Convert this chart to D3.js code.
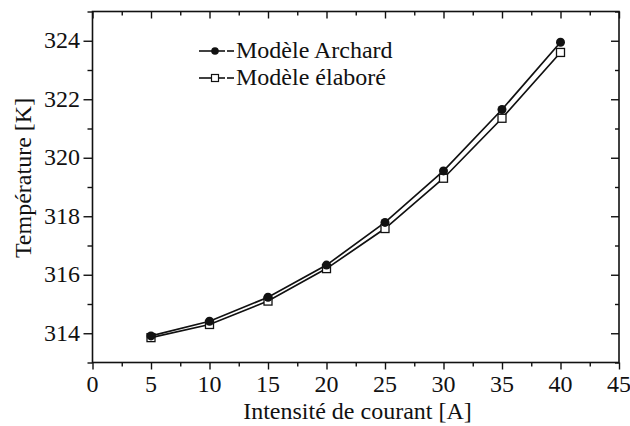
<!DOCTYPE html>
<html><head><meta charset="utf-8">
<script src="https://cdn.jsdelivr.net/npm/d3@7"></script>
</head><body style="margin:0;background:#fff">
<svg id="c" width="630" height="426" style="display:block"></svg>
<script>
const currents = [5, 10, 15, 20, 25, 30, 35, 40];
const archard = [313.91, 314.41, 315.23, 316.33, 317.79, 319.55, 321.65, 323.95];
const elabore = [313.85, 314.30, 315.10, 316.21, 317.58, 319.30, 321.35, 323.60];
const xTicks = [0, 5, 10, 15, 20, 25, 30, 35, 40, 45];
const yTicks = [314, 316, 318, 320, 322, 324];
const seriesNames = ["Modèle Archard", "Modèle élaboré"];

const FONT = '"Liberation Serif", "Times New Roman", serif';
const svg = d3.select("#c");
const L = 92.5, R = 619, T = 11.5, B = 362.5;
const x = d3.scaleLinear().domain([0, 45]).range([L, R]);
const y = d3.scaleLinear().domain([313, 325]).range([B, T]);
const ink = "#111";

const xMinor = d3.range(0, 45.01, 2.5).filter(v => !xTicks.includes(v));
const yMinor = d3.range(313, 325.01, 1).filter(v => !yTicks.includes(v));

function ticks(g, axisFn, scale, major, minor, kMaj, kMin) {
  g.call(axisFn(scale).tickValues(major).tickSize(kMaj).tickFormat(""));
  g.select(".domain").remove();
  const m = g.append("g");
  m.call(axisFn(scale).tickValues(minor).tickSize(kMin).tickFormat(""));
  m.select(".domain").remove();
  g.selectAll("line").attr("stroke", ink).attr("stroke-width", 1.4);
}
ticks(svg.append("g").attr("transform", `translate(0,${B})`), d3.axisBottom, x, xTicks, xMinor, 7, 4);
ticks(svg.append("g").attr("transform", `translate(0,${T})`), d3.axisBottom, x, xTicks, xMinor, 7, 4);
ticks(svg.append("g").attr("transform", `translate(${L},0)`), d3.axisLeft, y, yTicks, yMinor, 9, 5);
ticks(svg.append("g").attr("transform", `translate(${R},0)`), d3.axisLeft, y, yTicks, yMinor, 8, 4);

svg.append("rect").attr("x", L).attr("y", T).attr("width", R - L).attr("height", B - T)
  .attr("fill", "none").attr("stroke", ink).attr("stroke-width", 1.6);

function txt(sel) { return sel.style("font-family", FONT).attr("fill", ink); }

txt(svg.append("g").selectAll("text").data(xTicks).join("text"))
  .attr("x", d => x(d)).attr("y", 392)
  .attr("text-anchor", "middle").attr("font-size", 24).text(d => d);
txt(svg.append("g").selectAll("text").data(yTicks).join("text"))
  .attr("x", 80).attr("y", d => y(d) + 7.5)
  .attr("text-anchor", "end").attr("font-size", 24).text(d => d);

txt(svg.append("text")).attr("x", 357.5).attr("y", 419)
  .attr("text-anchor", "middle").attr("font-size", 24).text("Intensité de courant [A]");
txt(svg.append("text")).attr("transform", `translate(31,178) rotate(-90)`)
  .attr("text-anchor", "middle").attr("font-size", 24).text("Température [K]");

const line = d3.line().x((d, i) => x(currents[i])).y(d => y(d));
[archard, elabore].forEach(s => {
  svg.append("path").datum(s).attr("d", line).attr("fill", "none")
    .attr("stroke", ink).attr("stroke-width", 1.7);
});
svg.append("g").selectAll("rect").data(elabore).join("rect")
  .attr("x", (d, i) => x(currents[i]) - 4).attr("y", d => y(d) - 4)
  .attr("width", 8).attr("height", 8).attr("fill", "#fff").attr("stroke", ink).attr("stroke-width", 1.3);
svg.append("g").selectAll("circle").data(archard).join("circle")
  .attr("cx", (d, i) => x(currents[i])).attr("cy", d => y(d)).attr("r", 4.5).attr("fill", ink);

const lg = svg.append("g");
const rows = [{name: seriesNames[0], yy: 51, type: "circle"}, {name: seriesNames[1], yy: 78, type: "square"}];
rows.forEach(r => {
  lg.append("line").attr("x1", 199).attr("x2", 225).attr("y1", r.yy).attr("y2", r.yy).attr("stroke", ink).attr("stroke-width", 1.6);
  lg.append("line").attr("x1", 227).attr("x2", 234).attr("y1", r.yy).attr("y2", r.yy).attr("stroke", ink).attr("stroke-width", 1.6);
  if (r.type === "circle") lg.append("circle").attr("cx", 215).attr("cy", r.yy).attr("r", 3.8).attr("fill", ink);
  else lg.append("rect").attr("x", 211.5).attr("y", r.yy - 3.5).attr("width", 7).attr("height", 7).attr("fill", "#fff").attr("stroke", ink).attr("stroke-width", 1.2);
  txt(lg.append("text")).attr("x", 236).attr("y", r.yy + 7).attr("font-size", 24).text(r.name);
});
</script></body></html>
